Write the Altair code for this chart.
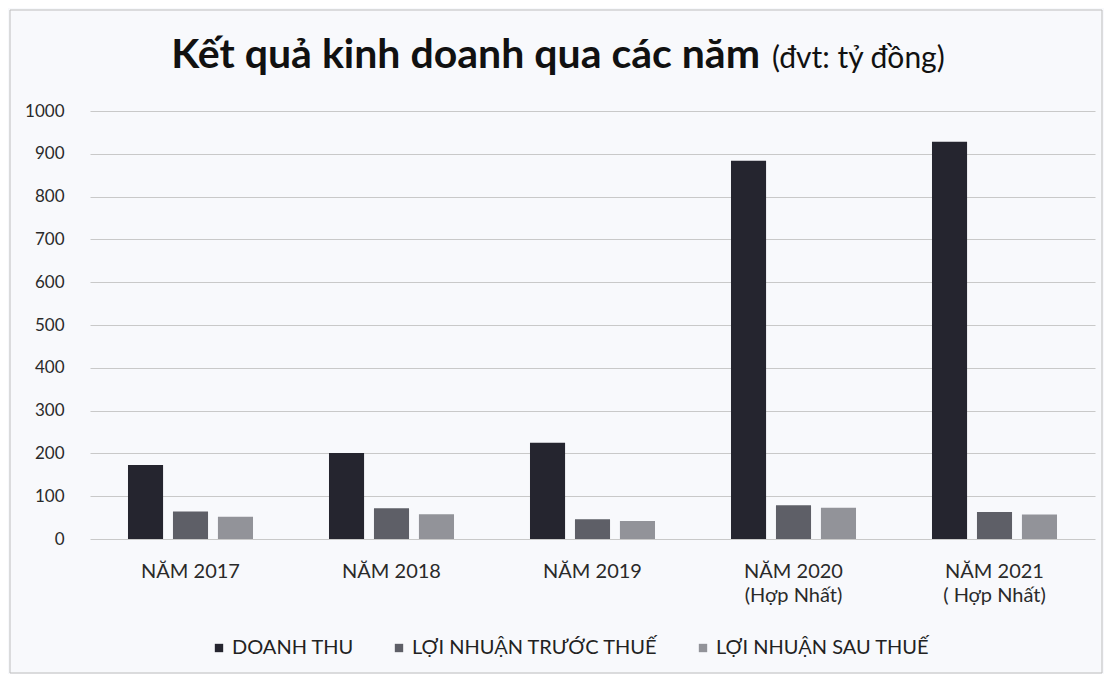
import altair as alt
import pandas as pd

years = ["NĂM 2017", "NĂM 2018", "NĂM 2019", "NĂM 2020|(Hợp Nhất)", "NĂM 2021|( Hợp Nhất)"]
series = ["DOANH THU", "LỢI NHUẬN TRƯỚC THUẾ", "LỢI NHUẬN SAU THUẾ"]
doanh_thu = [173, 201, 225, 884, 928]
ln_truoc_thue = [64, 72, 46, 79, 63]
ln_sau_thue = [52, 58, 42, 73, 57]
colors = ["#25252f", "#5e5f67", "#929399"]
y_ticks = [0, 100, 200, 300, 400, 500, 600, 700, 800, 900, 1000]
title_main = "Kết quả kinh doanh qua các năm"
title_unit = "(đvt: tỷ đồng)"

rows = []
for i, yr in enumerate(years):
    for s, vals in zip(series, [doanh_thu, ln_truoc_thue, ln_sau_thue]):
        rows.append({"year": yr, "series": s, "value": vals[i]})
df = pd.DataFrame(rows)

FONT = "Lato"

bars = alt.Chart(df).mark_bar().encode(
    x=alt.X("year:N", sort=years,
            scale=alt.Scale(paddingInner=0.378, paddingOuter=0.189),
            axis=alt.Axis(title=None, labelAngle=0, domain=False, ticks=False,
                          labelFont=FONT, labelFontSize=20, labelColor="#2a2a2a",
                          labelPadding=22, labelLineHeight=24,
                          labelExpr="split(datum.label, '|')")),
    xOffset=alt.XOffset("series:N", sort=series, scale=alt.Scale(paddingInner=0.22)),
    y=alt.Y("value:Q", scale=alt.Scale(domain=[0, 1000]),
            axis=alt.Axis(title=None, values=y_ticks, format="d", domain=False, ticks=False,
                          labelFont=FONT, labelFontSize=17, labelColor="#2a2a2a",
                          labelPadding=26, gridColor="#c9c9c9", gridWidth=1)),
    color=alt.Color("series:N", sort=series,
                    scale=alt.Scale(domain=series, range=colors),
                    legend=alt.Legend(title=None, orient="none", legendX=119, legendY=527,
                                      direction="horizontal", symbolType="square",
                                      symbolSize=70, symbolStrokeWidth=0,
                                      labelFont=FONT, labelFontSize=20, labelColor="#222222",
                                      columnPadding=35, labelOffset=3, labelLimit=400)),
)

tdf = pd.DataFrame({"t": [title_main], "u": [title_unit]})
t_main = alt.Chart(tdf).mark_text(align="right", baseline="alphabetic", font=FONT,
                                  fontSize=41, fontWeight="bold", color="#111111").encode(
    x=alt.value(670), y=alt.value(-43), text="t:N")
t_unit = alt.Chart(tdf).mark_text(align="left", baseline="alphabetic", font=FONT,
                                  fontSize=30, color="#111111").encode(
    x=alt.value(682), y=alt.value(-43), text="u:N")

frame = alt.Chart(tdf).mark_rect(fillOpacity=0, stroke="#bdbdbd", strokeWidth=1).encode(
    x=alt.value(-80), x2=alt.value(1012), y=alt.value(-101), y2=alt.value(562))

chart = alt.layer(frame, bars, t_main, t_unit).properties(
    width=1005, height=428,
    autosize=alt.AutoSizeParams(type="none"),
    padding={"left": 82, "top": 103, "right": 9, "bottom": 135},
).configure(background="#f8f9fc").configure_view(stroke=None)

chart.save("out.html", embed_options={"renderer": "svg", "actions": False})
